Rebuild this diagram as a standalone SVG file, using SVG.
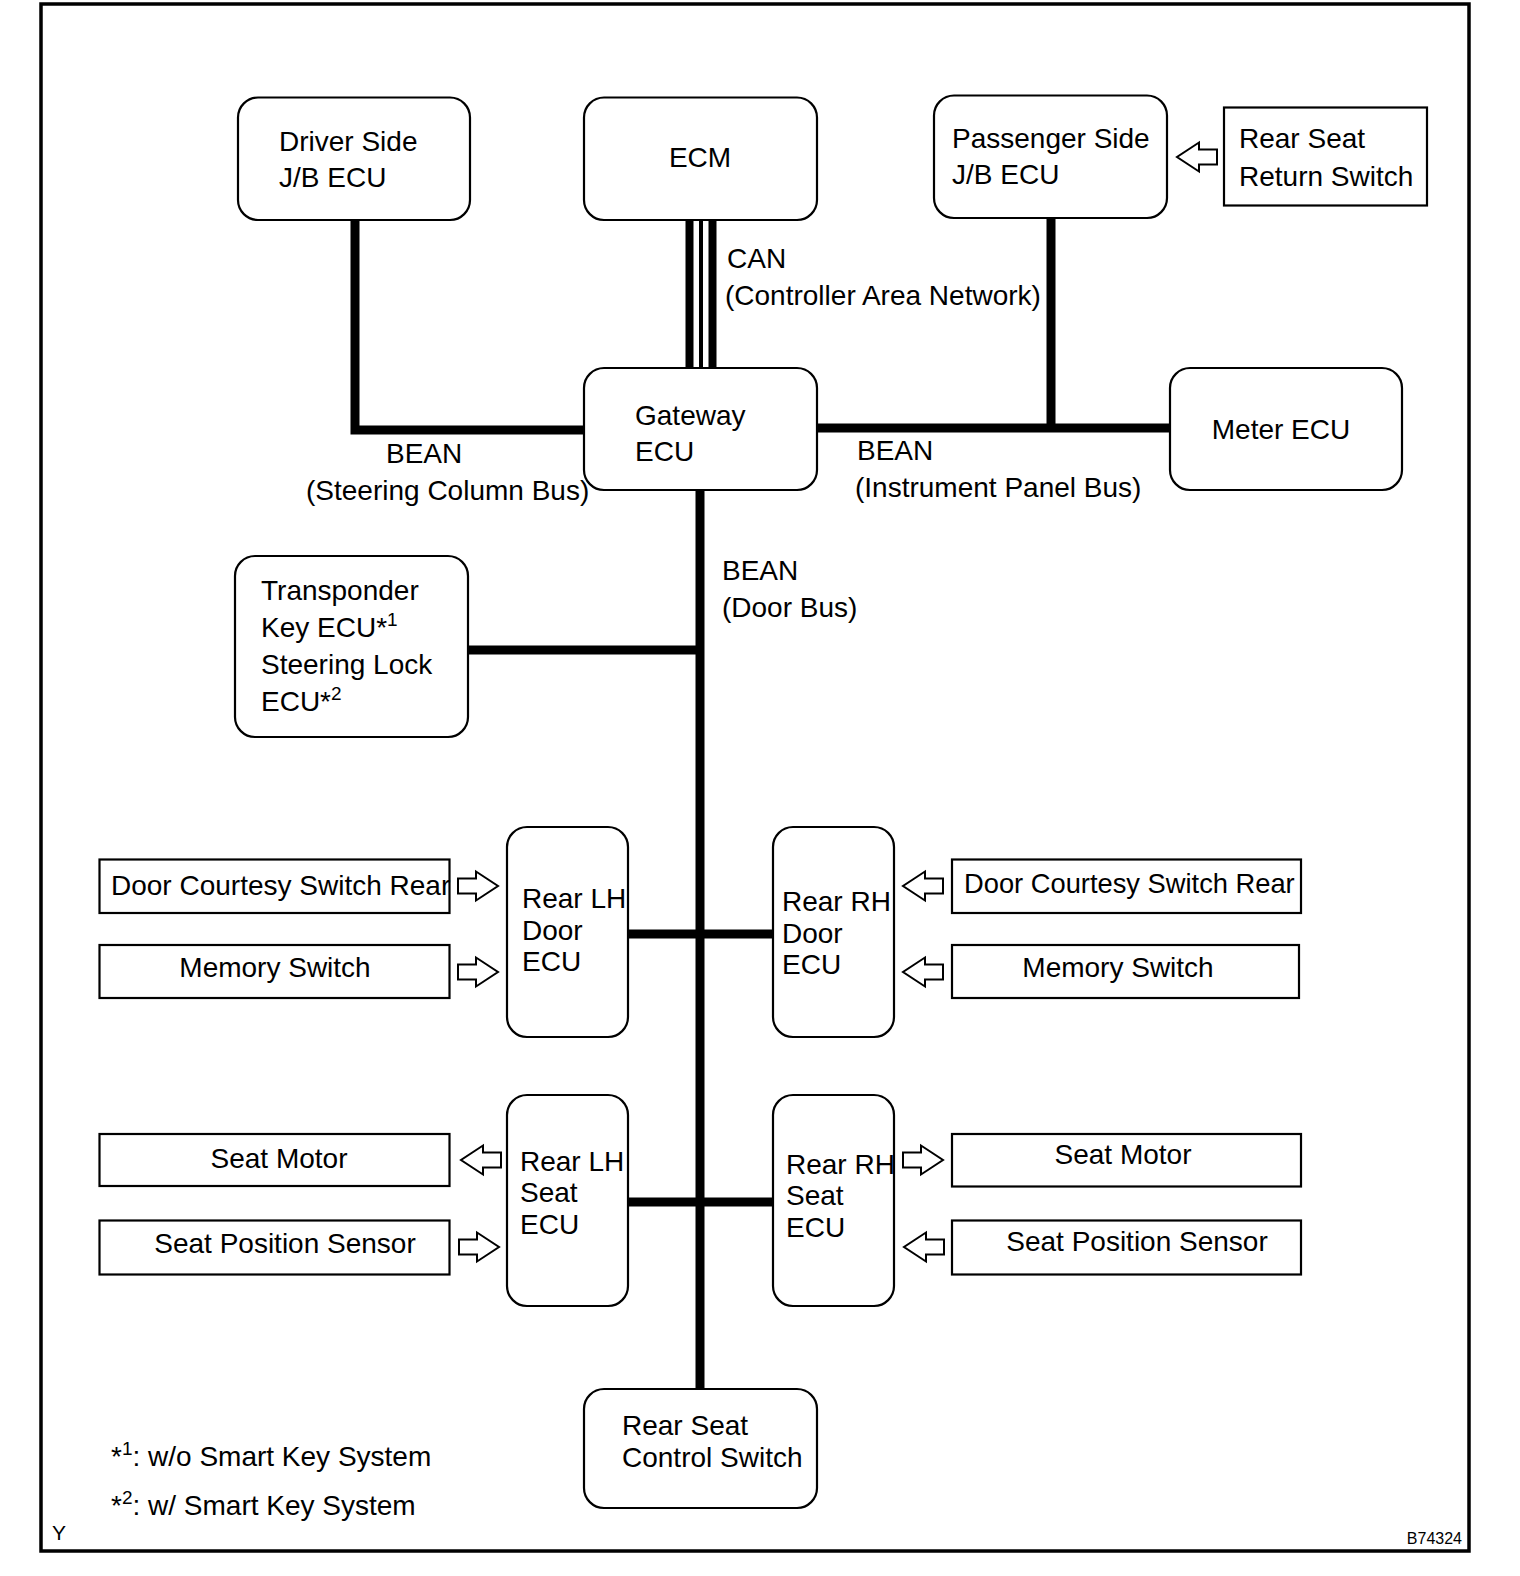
<svg xmlns="http://www.w3.org/2000/svg" width="1520" height="1576" viewBox="0 0 1520 1576">
<style>
text{font-family:"Liberation Sans",Arial,sans-serif;font-size:28px;fill:#000}
.node{fill:#fff;stroke:#000;stroke-width:2.2}
.box{fill:#fff;stroke:#000;stroke-width:2.2}
.bus{stroke:#000;stroke-width:9;fill:none}
.arr{fill:#fff;stroke:#000;stroke-width:2;stroke-linejoin:miter}
.mid{text-anchor:middle}
.sup{font-size:19px}
.small{font-size:16px}
</style>
<defs>
<polygon id="ar" class="arr" points="-40,-7.5 -22,-7.5 -22,-14.5 0,0 -22,14.5 -22,7.5 -40,7.5"/>
</defs>
<rect x="0" y="0" width="1520" height="1576" fill="#fff"/>
<rect x="41" y="4" width="1428" height="1547" fill="none" stroke="#000" stroke-width="3.5"/>

<g id="connectors">
<polyline class="bus" points="355,220 355,430 584,430"/>
<line class="bus" x1="817" y1="428" x2="1170" y2="428"/>
<line class="bus" x1="1051" y1="218" x2="1051" y2="428"/>
<line class="bus" x1="700" y1="490" x2="700" y2="1389"/>
<line class="bus" x1="468" y1="650" x2="700" y2="650"/>
<line class="bus" x1="628" y1="934" x2="773" y2="934"/>
<line class="bus" x1="628" y1="1202" x2="773" y2="1202"/>
<line x1="689.5" y1="220" x2="689.5" y2="368" stroke="#000" stroke-width="8"/>
<line x1="701" y1="220" x2="701" y2="368" stroke="#000" stroke-width="4"/>
<line x1="712.5" y1="220" x2="712.5" y2="368" stroke="#000" stroke-width="8"/>
<use href="#ar" transform="translate(1177,157) rotate(180)"/>
<use href="#ar" transform="translate(498,886)"/>
<use href="#ar" transform="translate(498,972)"/>
<use href="#ar" transform="translate(903,886) rotate(180)"/>
<use href="#ar" transform="translate(903,972) rotate(180)"/>
<use href="#ar" transform="translate(461,1160) rotate(180)"/>
<use href="#ar" transform="translate(499,1247)"/>
<use href="#ar" transform="translate(943,1160)"/>
<use href="#ar" transform="translate(904,1247) rotate(180)"/>
</g>

<g id="labels">
<text x="727" y="268">CAN</text>
<text x="725" y="305">(Controller Area Network)</text>
<text x="386" y="463">BEAN</text>
<text x="306" y="500">(Steering Column Bus)</text>
<text x="857" y="460">BEAN</text>
<text x="855" y="497">(Instrument Panel Bus)</text>
<text x="722" y="580">BEAN</text>
<text x="722" y="617">(Door Bus)</text>
</g>

<g id="driver-jb">
<rect class="node" x="238" y="97.5" width="232" height="122.5" rx="20"/>
<text x="279" y="151">Driver Side</text>
<text x="279" y="187">J/B ECU</text>
</g>
<g id="ecm">
<rect class="node" x="584" y="97.5" width="233" height="122.5" rx="20"/>
<text class="mid" x="700" y="167">ECM</text>
</g>
<g id="passenger-jb">
<rect class="node" x="934" y="95.5" width="233" height="122.5" rx="20"/>
<text x="952" y="148">Passenger Side</text>
<text x="952" y="184">J/B ECU</text>
</g>
<g id="rear-seat-return-switch">
<rect class="box" x="1224" y="107.5" width="203" height="98"/>
<text x="1239" y="148">Rear Seat</text>
<text x="1239" y="186">Return Switch</text>
</g>
<g id="gateway-ecu">
<rect class="node" x="584" y="368" width="233" height="122" rx="20"/>
<text x="635" y="425">Gateway</text>
<text x="635" y="461">ECU</text>
</g>
<g id="meter-ecu">
<rect class="node" x="1170" y="368" width="232" height="122" rx="20"/>
<text class="mid" x="1281" y="439">Meter ECU</text>
</g>
<g id="transponder-ecu">
<rect class="node" x="235" y="556" width="233" height="181" rx="20"/>
<text x="261" y="600">Transponder</text>
<text x="261" y="637">Key ECU*<tspan class="sup" dy="-11">1</tspan></text>
<text x="261" y="674">Steering Lock</text>
<text x="261" y="711">ECU*<tspan class="sup" dy="-11">2</tspan></text>
</g>
<g id="rear-lh-door-ecu">
<rect class="node" x="507" y="827" width="121" height="210" rx="20"/>
<text x="522" y="908">Rear LH</text>
<text x="522" y="940">Door</text>
<text x="522" y="971">ECU</text>
</g>
<g id="rear-rh-door-ecu">
<rect class="node" x="773" y="827" width="121" height="210" rx="20"/>
<text x="782" y="911">Rear RH</text>
<text x="782" y="943">Door</text>
<text x="782" y="974">ECU</text>
</g>
<g id="rear-lh-seat-ecu">
<rect class="node" x="507" y="1095" width="121" height="211" rx="20"/>
<text x="520" y="1171">Rear LH</text>
<text x="520" y="1202">Seat</text>
<text x="520" y="1234">ECU</text>
</g>
<g id="rear-rh-seat-ecu">
<rect class="node" x="773" y="1095" width="121" height="211" rx="20"/>
<text x="786" y="1174">Rear RH</text>
<text x="786" y="1205">Seat</text>
<text x="786" y="1237">ECU</text>
</g>
<g id="rear-seat-control-switch">
<rect class="node" x="584" y="1389" width="233" height="119" rx="20"/>
<text x="622" y="1435">Rear Seat</text>
<text x="622" y="1467">Control Switch</text>
</g>
<g id="door-courtesy-left">
<rect class="box" x="99.5" y="859.5" width="350" height="53.5"/>
<text x="111" y="895">Door Courtesy Switch Rear</text>
</g>
<g id="memory-switch-left">
<rect class="box" x="99.5" y="945" width="350" height="53"/>
<text class="mid" x="275" y="977">Memory Switch</text>
</g>
<g id="door-courtesy-right">
<rect class="box" x="952" y="859.5" width="349" height="53.5"/>
<text x="964" y="893" style="font-size:27.3px">Door Courtesy Switch Rear</text>
</g>
<g id="memory-switch-right">
<rect class="box" x="952" y="945" width="347" height="53"/>
<text class="mid" x="1118" y="977">Memory Switch</text>
</g>
<g id="seat-motor-left">
<rect class="box" x="99.5" y="1134" width="350" height="52"/>
<text class="mid" x="279" y="1168">Seat Motor</text>
</g>
<g id="seat-position-sensor-left">
<rect class="box" x="99.5" y="1220.5" width="350" height="54"/>
<text class="mid" x="285" y="1253">Seat Position Sensor</text>
</g>
<g id="seat-motor-right">
<rect class="box" x="952" y="1134" width="349" height="52.5"/>
<text class="mid" x="1123" y="1164">Seat Motor</text>
</g>
<g id="seat-position-sensor-right">
<rect class="box" x="952" y="1220.5" width="349" height="54"/>
<text class="mid" x="1137" y="1251">Seat Position Sensor</text>
</g>

<g id="footnotes">
<text x="111" y="1466">*<tspan class="sup" dy="-11">1</tspan><tspan dy="11">: w/o Smart Key System</tspan></text>
<text x="111" y="1515">*<tspan class="sup" dy="-11">2</tspan><tspan dy="11">: w/ Smart Key System</tspan></text>
<text x="52" y="1540" style="font-size:21px">Y</text>
<text class="small" x="1462" y="1544" text-anchor="end">B74324</text>
</g>
</svg>
